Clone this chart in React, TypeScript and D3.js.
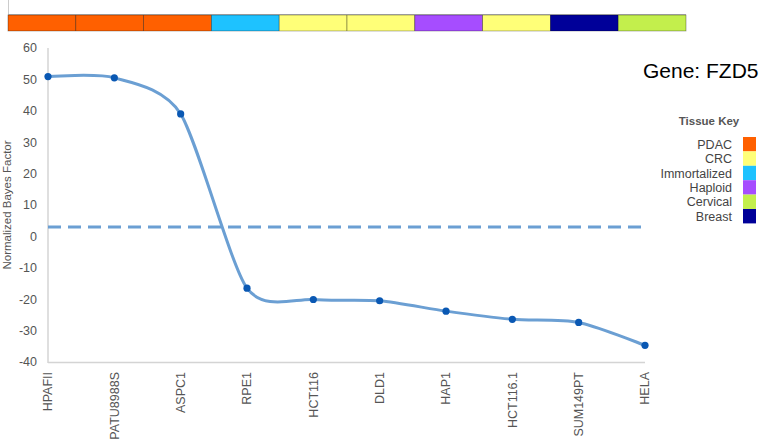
import * as d3 from "d3";

const cellLines = ["HPAFII", "PATU8988S", "ASPC1", "RPE1", "HCT116", "DLD1", "HAP1", "HCT116.1", "SUM149PT", "HELA"];
const bayesValues = [50.9, 50.5, 39, -16.5, -20.1, -20.5, -23.8, -26.4, -27.4, -34.7];
const cellTissues = ["PDAC", "PDAC", "PDAC", "Immortalized", "CRC", "CRC", "Haploid", "CRC", "Breast", "Cervical"];
const legendTissues = ["PDAC", "CRC", "Immortalized", "Haploid", "Cervical", "Breast"];
const tissueColors = ["#ff6000", "#ffff78", "#1ec2ff", "#a64dff", "#c3ef4c", "#000099"];
const yTicks = [60, 50, 40, 30, 20, 10, 0, -10, -20, -30, -40];
const threshold = 3;
const geneName = "FZD5";

const W = 784;
const H = 439;
const font = "'Liberation Sans', Arial, sans-serif";

export default function App() {
  const x = d3.scalePoint<string>().domain(cellLines).range([48, 645]);
  const y = d3.scaleLinear().domain([-40, 60]).range([362, 48]);
  const band = d3.scaleBand<string>().domain(cellLines).range([8, 686]);
  const color = d3.scaleOrdinal<string, string>().domain(legendTissues).range(tissueColors);

  const pts = cellLines.map((c, i) => ({ name: c, v: bayesValues[i], tissue: cellTissues[i] }));
  const line = d3
    .line<{ name: string; v: number }>()
    .x((d) => x(d.name)!)
    .y((d) => y(d.v))
    .curve(d3.curveCardinal.tension(0.25));

  const [x0, x1] = x.range();

  return (
    <svg width={W} height={H} style={{ position: "absolute", left: 0, top: 0 }} fontFamily={font}>
      {/* tissue strip */}
      <line x1={8.5} x2={8.5} y1={0} y2={15} stroke="#ccc" />
      {pts.map((d) => (
        <rect
          key={d.name}
          x={band(d.name)}
          y={15}
          width={band.bandwidth()}
          height={16}
          fill={color(d.tissue)}
          stroke="rgba(0,0,0,0.45)"
          strokeWidth={0.7}
        />
      ))}
      <line x1={8} x2={686} y1={14.5} y2={14.5} stroke="#999" />
      <line x1={8} x2={686} y1={31.5} y2={31.5} stroke="#ddd" />

      {/* axes */}
      <line x1={x0} x2={x0} y1={y(60)} y2={y(-40) + 1} stroke="#d4d4d4" strokeWidth={1.5} />
      <line x1={x0} x2={x1} y1={y(-40) + 0.5} y2={y(-40) + 0.5} stroke="#d4d4d4" strokeWidth={1.5} />
      {yTicks.map((t) => (
        <text key={t} x={37} y={y(t)} dy="0.35em" textAnchor="end" fontSize={12.5} fill="#555">
          {t}
        </text>
      ))}
      <text
        transform={`translate(11,${(y(60) + y(-40)) / 2}) rotate(-90)`}
        textAnchor="middle"
        fontSize={11.5}
        fill="#555"
      >
        Normalized Bayes Factor
      </text>
      {cellLines.map((c) => (
        <text
          key={c}
          transform={`translate(${x(c)},372) rotate(-90)`}
          textAnchor="end"
          dy="0.35em"
          fontSize={12.5}
          fill="#555"
        >
          {c}
        </text>
      ))}

      {/* threshold */}
      <line
        x1={x0}
        x2={x1}
        y1={y(threshold)}
        y2={y(threshold)}
        stroke="#6b9fd3"
        strokeWidth={3}
        strokeDasharray="13,7"
      />

      {/* series */}
      <path d={line(pts) ?? ""} fill="none" stroke="#6b9fd3" strokeWidth={3} />
      {pts.map((d) => (
        <circle key={d.name} cx={x(d.name)} cy={y(d.v)} r={3.6} fill="#0a58b3" />
      ))}

      {/* gene title */}
      <text x={643} y={78} fontSize={21} fill="#000">
        Gene: {geneName}
      </text>

      {/* legend */}
      <text x={709} y={125} textAnchor="middle" fontSize={11.5} fontWeight="bold" fill="#555">
        Tissue Key
      </text>
      {legendTissues.map((t, i) => (
        <g key={t} transform={`translate(0,${137 + i * 14.4})`}>
          <text x={732} y={7.4} dy="0.35em" textAnchor="end" fontSize={12.5} fill="#444">
            {t}
          </text>
          <rect x={743} y={0} width={13} height={14.4} fill={color(t)} />
        </g>
      ))}
    </svg>
  );
}
